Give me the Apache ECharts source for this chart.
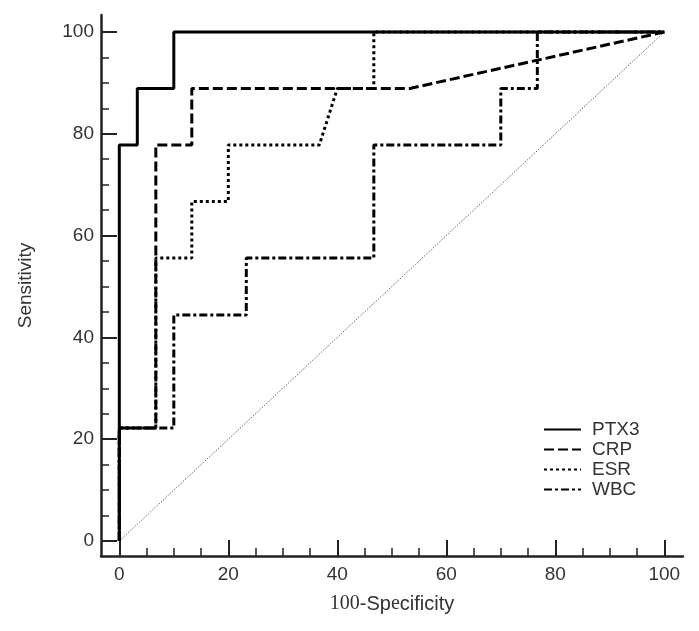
<!DOCTYPE html>
<html>
<head>
<meta charset="utf-8">
<script src="https://cdn.jsdelivr.net/npm/echarts@6/dist/echarts.min.js"></script>
<style>html,body{margin:0;padding:0;background:#fff;}#c{width:699px;height:631px;}</style>
</head>
<body>
<div id="c"></div>
<script>
const seriesNames = ['PTX3', 'CRP', 'ESR', 'WBC'];
const ptx3 = [[0,0],[0,22.2],[0,77.8],[3.3,77.8],[3.3,88.9],[10,88.9],[10,100],[100,100]];
const crp  = [[0,0],[0,22.2],[6.7,22.2],[6.7,77.8],[13.3,77.8],[13.3,88.9],[53.3,88.9],[100,100]];
const esr  = [[0,0],[0,22.2],[6.7,22.2],[6.7,55.6],[13.3,55.6],[13.3,66.7],[20,66.7],[20,77.8],[36.7,77.8],[40,88.9],[46.7,88.9],[46.7,100],[100,100]];
const wbc  = [[0,0],[0,22.2],[10,22.2],[10,44.4],[23.3,44.4],[23.3,55.6],[46.7,55.6],[46.7,77.8],[70,77.8],[70,88.9],[76.7,88.9],[76.7,100],[100,100]];
const diagonal = [[0,0],[100,100]];
const majorTicks = [0, 20, 40, 60, 80, 100];
const minorTicks = [5,10,15,25,30,35,45,50,55,65,70,75,85,90,95];

const FONT = 'Liberation Sans, Arial, sans-serif';
const SERIF = 'Liberation Serif, Times New Roman, serif';
const chart = echarts.init(document.getElementById('c'), null, {renderer: 'canvas'});

function mainAxis(isX) {
  return {
    type: 'value',
    min: isX ? -3.36 : -2.95,
    max: isX ? 103.43 : 103.34,
    position: isX ? 'bottom' : 'left',
    splitLine: {show: false},
    axisLine: {show: true, onZero: false, lineStyle: {color: '#222', width: 2.5}},
    axisTick: {show: true, inside: true, length: 16, customValues: majorTicks, lineStyle: {color: '#222', width: 2}},
    axisLabel: {show: true, customValues: majorTicks, margin: isX ? 9 : 7, color: '#333', fontFamily: FONT, fontSize: 19},
    name: isX ? '{a|100}{b|-Sp}{a|e}{b|cificity}' : 'Sensitivity',
    nameLocation: 'middle',
    nameGap: isX ? 38 : 66,
    nameTextStyle: {color: '#333', fontFamily: FONT, fontSize: 19,
      rich: {
        a: {fontFamily: SERIF, fontSize: 20, color: '#333'},
        b: {fontFamily: FONT, fontSize: 20, color: '#333'}
      }}
  };
}
function minorAxis(isX) {
  return {
    type: 'value',
    min: isX ? -3.36 : -2.95,
    max: isX ? 103.43 : 103.34,
    position: isX ? 'bottom' : 'left',
    splitLine: {show: false},
    axisLine: {show: false, onZero: false},
    axisTick: {show: true, inside: true, length: 8, customValues: minorTicks, lineStyle: {color: '#222', width: 1.5}},
    axisLabel: {show: false}
  };
}

function lineSeries(name, data, type, width) {
  return {
    name: name, type: 'line', data: data, symbol: 'none', showSymbol: false,
    xAxisIndex: 0, yAxisIndex: 0, animation: false,
    lineStyle: {color: '#000', width: width, type: type, cap: 'butt'},
    itemStyle: {color: '#000'}
  };
}

chart.setOption({
  backgroundColor: '#fff',
  animation: false,
  grid: {left: 101, right: 16, top: 15, bottom: 75, containLabel: false},
  xAxis: [mainAxis(true), minorAxis(true)],
  yAxis: [mainAxis(false), minorAxis(false)],
  legend: {
    data: seriesNames,
    orient: 'vertical',
    left: 538, top: 415,
    itemWidth: 37, itemHeight: 14, itemGap: 1,
    itemStyle: {opacity: 0, color: 'transparent', borderWidth: 0},
    textStyle: {color: '#333', fontFamily: FONT, fontSize: 19, padding: [0,0,0,6]}
  },
  series: [
    {type: 'line', data: diagonal, symbol: 'none', silent: true, z: 1,
     lineStyle: {color: '#666', width: 1, type: [1.5, 1.5]}},
    lineSeries('WBC', wbc, [8, 3, 3, 3], 3),
    lineSeries('ESR', esr, [3, 3], 3),
    lineSeries('CRP', crp, [10, 4], 3),
    lineSeries('PTX3', ptx3, 'solid', 3)
  ]
});
</script>
</body>
</html>
